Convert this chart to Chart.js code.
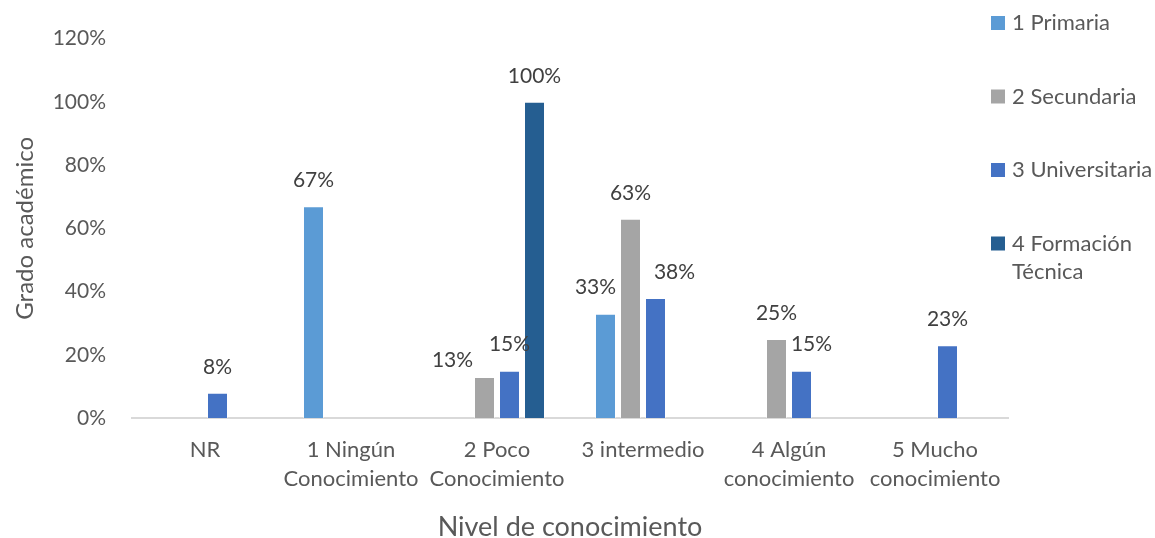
<!DOCTYPE html>
<html>
<head>
<meta charset="utf-8">
<script src="https://cdn.jsdelivr.net/npm/chart.js@4.4.1/dist/chart.umd.min.js"></script>
<style>
  html, body { margin: 0; padding: 0; background: #fff; }
  #wrap { width: 1155px; height: 538px; position: relative; }
</style>
</head>
<body>
<div id="wrap"><canvas id="nivelChart"></canvas></div>
<script>
// niveles de conocimiento (eje x)
const categorias = ['NR', ['1 Ningún', 'Conocimiento'], ['2 Poco', 'Conocimiento'], '3 intermedio', ['4 Algún', 'conocimiento'], ['5 Mucho', 'conocimiento']];

// porcentaje por grado académico
const primaria      = [null, 67, null, 33, null, null];
const secundaria    = [null, null, 13, 63, 25, null];
const universitaria = [8, null, 15, 38, 15, 23];
const tecnica       = [null, null, 100, null, null, null];

const nombres = ['1 Primaria', '2 Secundaria', '3 Universitaria', ['4 Formación', 'Técnica']];
const colores = ['#5B9BD5', '#A5A5A5', '#4472C4', '#255E91'];

const ticksY = [0, 20, 40, 60, 80, 100, 120];

const FUENTE = 'Lato';

// pequeños desplazamientos de etiquetas que se pisan (dataset:indice -> [dx, dy])
const ajustes = { '1:2': [-32, 9], '0:3': [-10, 0], '2:3': [19, 0], '2:4': [10, 0] };

const etiquetas = {
  id: 'etiquetas',
  afterDatasetsDraw(chart) {
    const ctx = chart.ctx;
    ctx.save();
    ctx.font = '21px ' + FUENTE;
    ctx.fillStyle = '#404040';
    ctx.textAlign = 'center';
    ctx.textBaseline = 'middle';
    chart.data.datasets.forEach((ds, i) => {
      chart.getDatasetMeta(i).data.forEach((bar, j) => {
        const v = ds.data[j];
        if (v == null) return;
        const d = ajustes[i + ':' + j] || [0, 0];
        ctx.fillText(v + '%', bar.x + d[0], bar.y - 26 + d[1]);
      });
    });
    ctx.restore();
  }
};

// leyenda vertical a la derecha
const leyenda = {
  id: 'leyenda',
  afterDraw(chart) {
    const ctx = chart.ctx;
    ctx.save();
    ctx.font = '22px ' + FUENTE;
    ctx.textBaseline = 'middle';
    ctx.textAlign = 'left';
    chart.data.datasets.forEach((ds, i) => {
      const y = 23 + i * 73.5;
      ctx.fillStyle = ds.backgroundColor;
      ctx.fillRect(991, y - 7, 14, 14);
      ctx.fillStyle = '#595959';
      [].concat(ds.label).forEach((t, k) => ctx.fillText(t, 1012, y + k * 28));
    });
    ctx.restore();
  }
};

const series = [primaria, secundaria, universitaria, tecnica];

new Chart(document.getElementById('nivelChart'), {
  type: 'bar',
  data: {
    labels: categorias,
    datasets: series.map((s, i) => ({
      label: nombres[i],
      data: s,
      backgroundColor: colores[i],
      borderColor: 'rgba(255,255,255,0.45)',
      borderWidth: 1,
      categoryPercentage: 0.685,
      barPercentage: 0.84
    }))
  },
  options: {
    responsive: true,
    maintainAspectRatio: false,
    animation: false,
    layout: { padding: { top: 36, right: 147, bottom: 0, left: 0 } },
    plugins: {
      legend: { display: false },
      tooltip: { enabled: false }
    },
    scales: {
      x: {
        grid: { display: false, drawTicks: false },
        border: { display: true, color: '#D9D9D9', width: 2 },
        ticks: {
          color: '#595959',
          padding: 17,
          maxRotation: 0,
          autoSkip: false,
          font: { family: FUENTE, size: 22, lineHeight: 1.33 }
        },
        title: {
          display: true,
          text: 'Nivel de conocimiento',
          color: '#595959',
          padding: { top: 0, bottom: -5 },
          font: { family: FUENTE, size: 27 }
        }
      },
      y: {
        min: 0,
        max: 120,
        afterBuildTicks(scale) { scale.ticks = ticksY.map(v => ({ value: v })); },
        afterFit(scale) { scale.width = 132; },
        grid: { display: false, drawTicks: false },
        border: { display: false },
        ticks: {
          color: '#595959',
          padding: 26,
          font: { family: FUENTE, size: 21 },
          callback: v => v + '%'
        },
        title: {
          display: true,
          text: 'Grado académico',
          color: '#595959',
          padding: { top: 11, bottom: 0 },
          font: { family: FUENTE, size: 24 }
        }
      }
    }
  },
  plugins: [etiquetas, leyenda]
});
</script>
</body>
</html>
